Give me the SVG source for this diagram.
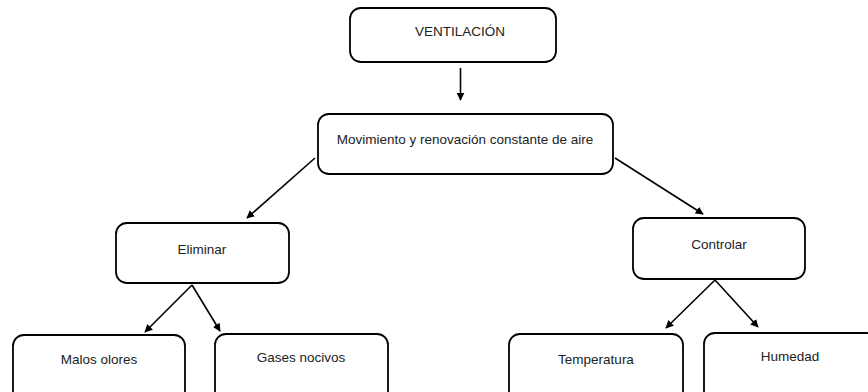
<svg xmlns="http://www.w3.org/2000/svg" width="868" height="392" viewBox="0 0 868 392">
<style>
.box{fill:#fff;stroke:#000;stroke-width:1.8}
.lbl{font-family:"Liberation Sans",Arial,sans-serif;font-size:13.5px;fill:#222;text-anchor:middle;dominant-baseline:middle}
.con{stroke:#000;stroke-width:1.6;fill:none;marker-end:url(#ah)}
</style>
<defs>
<marker id="ah" viewBox="0 0 10 10" refX="9" refY="5" markerWidth="5" markerHeight="5" orient="auto" markerUnits="strokeWidth">
<path d="M0,0 L10,5 L0,10 z" fill="#000"/>
</marker>
</defs>
<rect width="868" height="392" fill="#fff"/>
<g id="connectors">
<line class="con" x1="460.5" y1="68" x2="460.5" y2="100"/>
<line class="con" x1="315" y1="158" x2="247" y2="218"/>
<line class="con" x1="615" y1="158" x2="703" y2="214"/>
<line class="con" x1="192" y1="285" x2="145" y2="332"/>
<line class="con" x1="192" y1="285" x2="220" y2="331"/>
<line class="con" x1="715" y1="280" x2="666" y2="328"/>
<line class="con" x1="715" y1="280" x2="758" y2="327"/>
</g>
<g id="n-ventilacion">
<rect class="box" x="350" y="8" width="206" height="54" rx="11"/>
<text class="lbl" x="460" y="32">VENTILACIÓN</text>
</g>
<g id="n-movimiento">
<rect class="box" x="318" y="114" width="295" height="60" rx="11"/>
<text class="lbl" x="465" y="140">Movimiento y renovación constante de aire</text>
</g>
<g id="n-eliminar">
<rect class="box" x="116" y="223" width="173" height="60" rx="11"/>
<text class="lbl" x="202" y="250">Eliminar</text>
</g>
<g id="n-controlar">
<rect class="box" x="633" y="218" width="172" height="61" rx="11"/>
<text class="lbl" x="719" y="245">Controlar</text>
</g>
<g id="n-malos">
<rect class="box" x="13" y="335" width="172" height="70" rx="11"/>
<text class="lbl" x="99" y="360">Malos olores</text>
</g>
<g id="n-gases">
<rect class="box" x="215" y="334" width="173" height="70" rx="11"/>
<text class="lbl" x="301" y="358">Gases nocivos</text>
</g>
<g id="n-temperatura">
<rect class="box" x="509" y="334" width="174" height="70" rx="11"/>
<text class="lbl" x="596" y="360">Temperatura</text>
</g>
<g id="n-humedad">
<rect class="box" x="704" y="333" width="174" height="70" rx="11"/>
<text class="lbl" x="790" y="357">Humedad</text>
</g>
</svg>
